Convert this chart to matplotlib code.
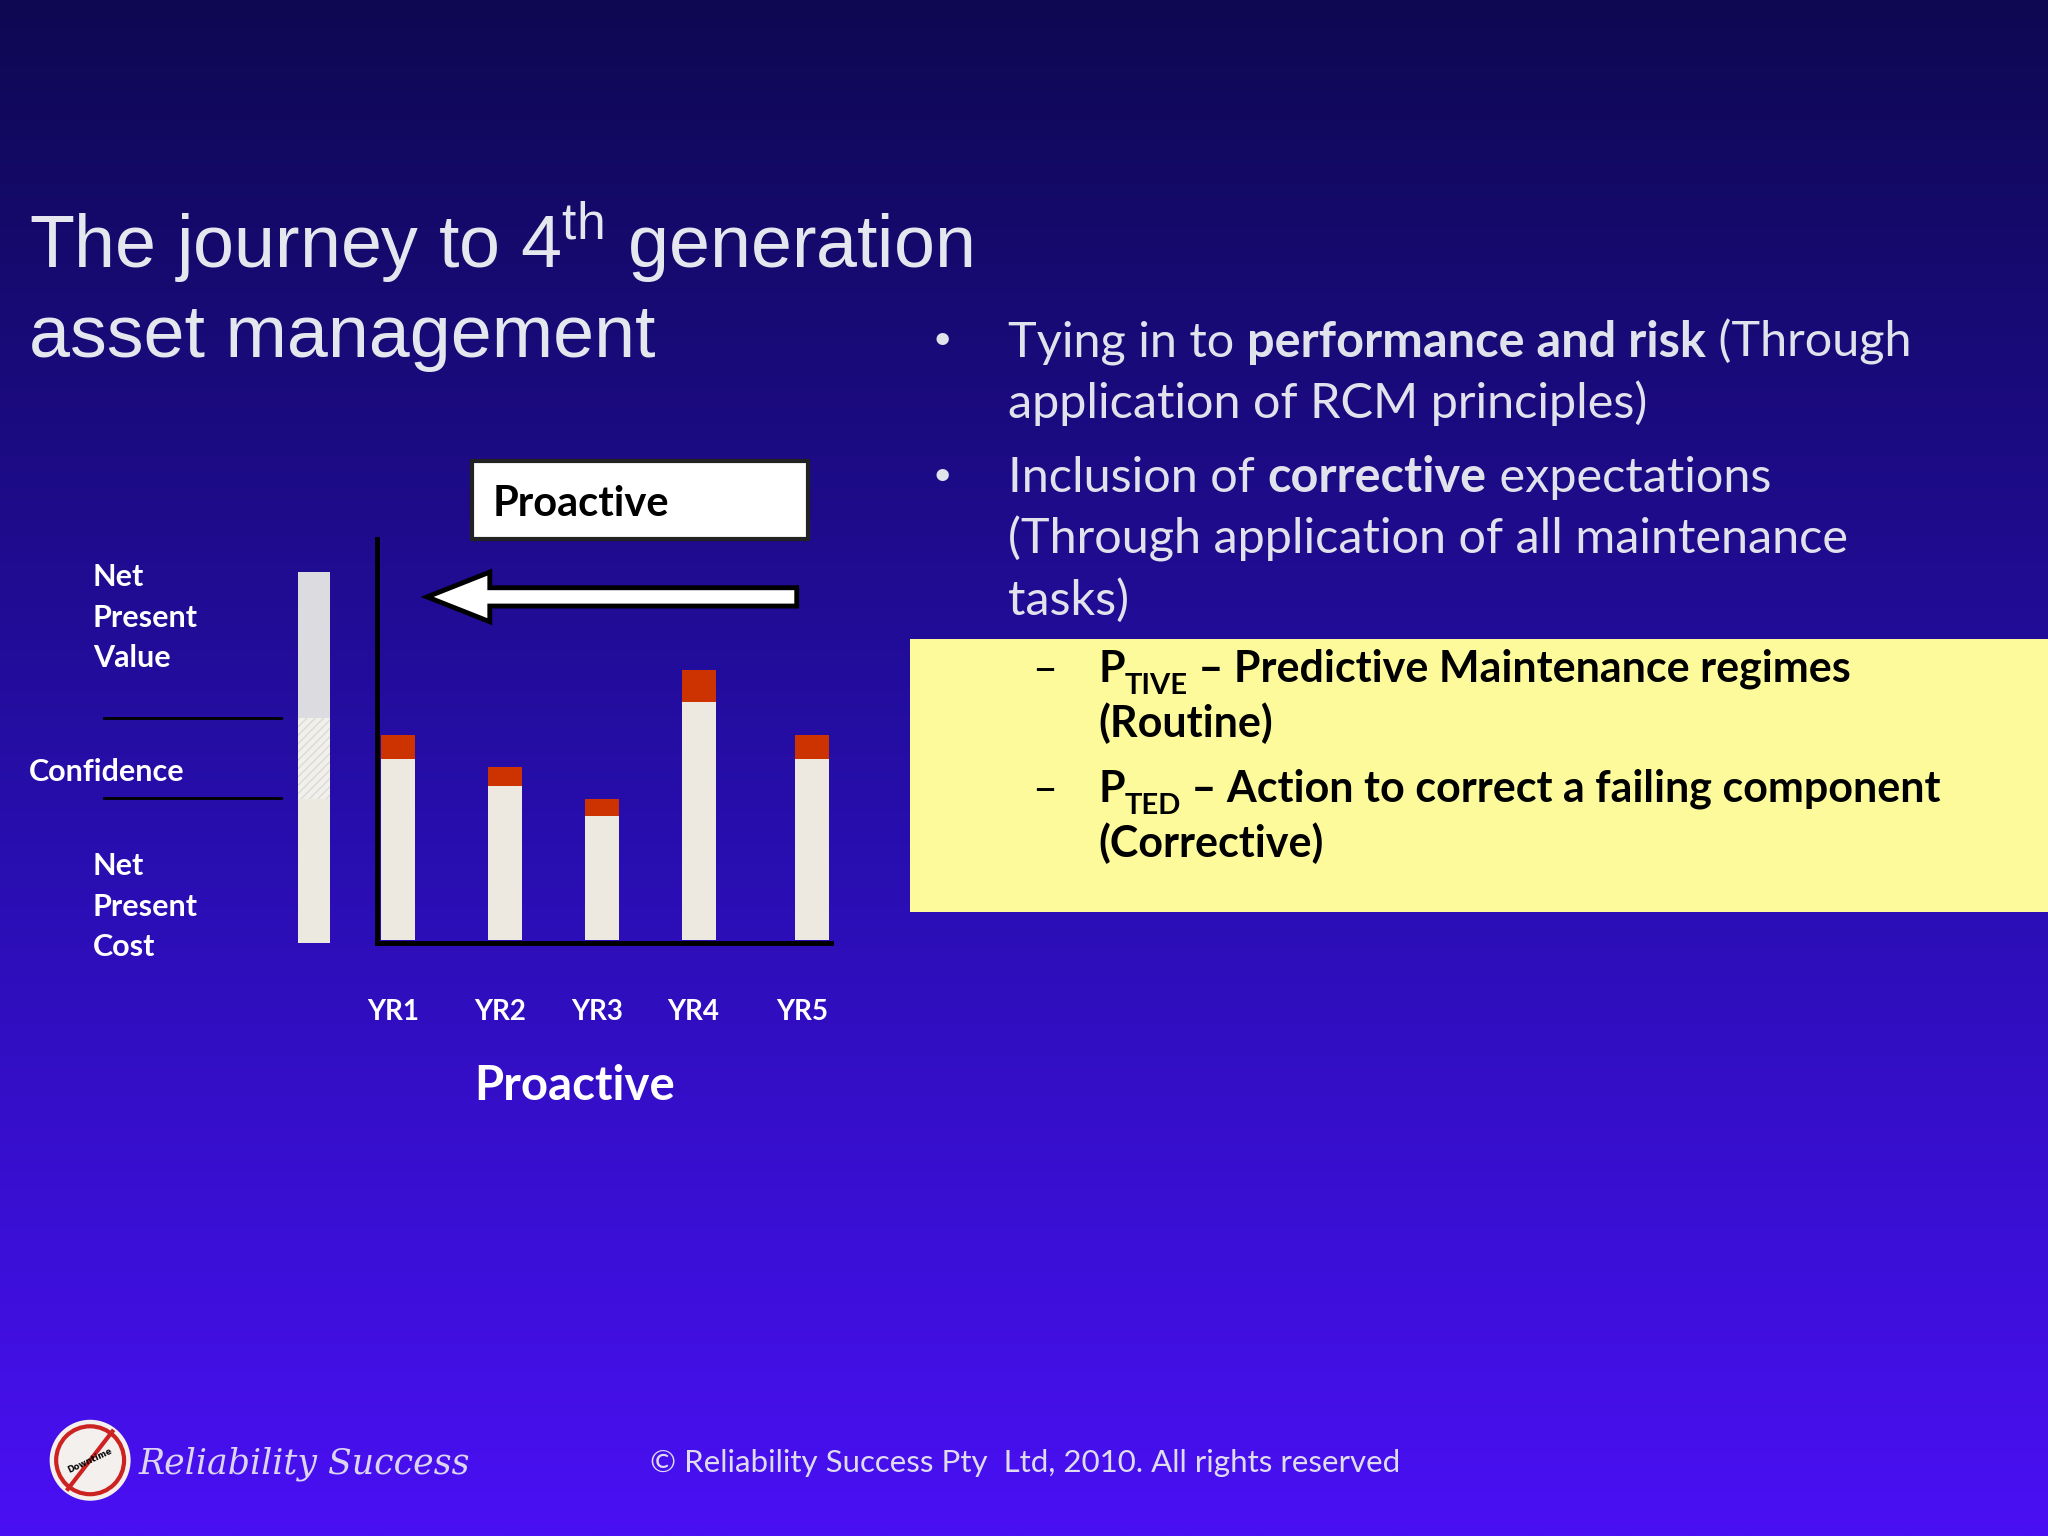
import numpy as np
import matplotlib
matplotlib.use("Agg")
import matplotlib.pyplot as plt
from matplotlib.patches import Rectangle, FancyArrow, Circle

# ---- data ----
years = ["YR1", "YR2", "YR3", "YR4", "YR5"]
routine = [140, 119, 96, 184, 140]      # cream (predictive) part
corrective = [18, 15, 13, 24, 18]       # red (corrective) part
npc_height, conf_height, npv_height = 110, 62, 112

plt.rcParams['mathtext.fontset'] = 'custom'
plt.rcParams['mathtext.rm'] = 'Liberation Sans'

fig = plt.figure(figsize=(20.48, 15.36), dpi=100)
bg = fig.add_axes([0, 0, 1, 1])
bg.set_xlim(0, 1568); bg.set_ylim(1176, 0); bg.axis('off')
top = np.array([14, 8, 82]) / 255
mid = np.array([40, 14, 175]) / 255
bot = np.array([74, 16, 244]) / 255
t = np.linspace(0, 1, 512)[:, None]
grad = np.where(t < 0.55, top + (mid - top) * (t / 0.55), mid + (bot - mid) * ((t - 0.55) / 0.45))
bg.imshow(grad[:, None, :].repeat(2, axis=1), extent=[0, 1568, 1176, 0], aspect='auto', zorder=0)

fig.canvas.draw()
R = fig.canvas.get_renderer()

def rich(x, y, parts, size, color, family='Lato'):
    for p in parts:
        s, w = p[0], p[1]
        sz = p[2] if len(p) > 2 else size
        dy = p[3] if len(p) > 3 else 0
        tx = bg.text(x, y + dy, s, fontsize=sz, fontweight=w, color=color,
                     family=family, va='baseline', ha='left', zorder=5)
        bb = tx.get_window_extent(R)
        x += bb.width * 1568 / 2048

# title
bg.text(22, 205, r'The journey to 4$^{\mathrm{th}}$ generation', fontsize=53, color='#e6e6ee',
        family='Liberation Sans', va='baseline', zorder=5)
bg.text(22, 273, 'asset management', fontsize=53, color='#e6e6ee',
        family='Liberation Sans', va='baseline', zorder=5)

# bullets
lc = '#e2e2ec'
bfs = 35
for yb in (273, 377):
    bg.text(714, yb - 6, '•', fontsize=24, color=lc, family='Lato', va='baseline', zorder=5)
rich(772, 273, [('Tying in to ', 'normal'), ('performance and risk', 'bold'), (' (Through', 'normal')], bfs, lc)
rich(772, 320, [('application of RCM principles)', 'normal')], bfs, lc)
rich(772, 377, [('Inclusion of ', 'normal'), ('corrective', 'bold'), (' expectations', 'normal')], bfs, lc)
rich(772, 424, [('(Through application of all maintenance', 'normal')], bfs, lc)
rich(772, 471, [('tasks)', 'normal')], bfs, lc)

# yellow box
bg.add_patch(Rectangle((697, 489), 871, 209, facecolor='#fdfa9c', edgecolor='none', zorder=3))
sfs = 31
bg.text(790, 522, '–', fontsize=sfs, color='black', family='Lato', va='baseline', zorder=5)
bg.text(790, 614, '–', fontsize=sfs, color='black', family='Lato', va='baseline', zorder=5)
rich(841, 522, [('P', 'bold'), ('TIVE', 'bold', 21, 9), (' – Predictive Maintenance regimes', 'bold')], sfs, 'black')
rich(841, 564, [('(Routine)', 'bold')], sfs, 'black')
rich(841, 614, [('P', 'bold'), ('TED', 'bold', 21, 9), (' – Action to correct a failing component', 'bold')], sfs, 'black')
rich(841, 656, [('(Corrective)', 'bold')], sfs, 'black')

# proactive box + arrow
bg.add_patch(Rectangle((361, 353), 258, 60, facecolor='white', edgecolor='#222222', lw=3, zorder=4))
bg.text(377, 395, 'Proactive', fontsize=30, fontweight='bold', color='black', family='Lato',
        va='baseline', zorder=5)
bg.add_patch(FancyArrow(610, 457, -283, 0, width=14, head_width=38, head_length=48,
                        length_includes_head=True, facecolor='white', edgecolor='black', lw=3.5, zorder=4))

# confidence bar
base = 722
bg.add_patch(Rectangle((228, base - npc_height), 25, npc_height, facecolor='#ece9e0', edgecolor='none', zorder=4))
bg.add_patch(Rectangle((228, base - npc_height - conf_height), 25, conf_height, facecolor='#f2f0ec',
                       edgecolor='#dcdad4', hatch='////', lw=0, zorder=4))
bg.add_patch(Rectangle((228, base - npc_height - conf_height - npv_height), 25, npv_height,
                       facecolor='#dcdce0', edgecolor='none', zorder=4))
bg.plot([80, 215], [550, 550], color='black', lw=2, zorder=4)
bg.plot([80, 215], [611, 611], color='black', lw=2, zorder=4)
lf = 22
for yy, s in zip([449, 480, 511], ['Net', 'Present', 'Value']):
    bg.text(71, yy, s, fontsize=lf, fontweight='bold', color='white', family='Lato', va='baseline', zorder=5)
bg.text(22, 598, 'Confidence', fontsize=lf, fontweight='bold', color='white', family='Lato', va='baseline', zorder=5)
for yy, s in zip([670, 701, 732], ['Net', 'Present', 'Cost']):
    bg.text(71, yy, s, fontsize=lf, fontweight='bold', color='white', family='Lato', va='baseline', zorder=5)

# bar chart
xpos = [305, 387, 461, 535, 622]
ax = fig.add_axes([289 / 1568, 1 - 722 / 1176, (636 - 289) / 1568, (722 - 413) / 1176])
ax.patch.set_alpha(0)
ax.bar(xpos, routine, width=26, color='#ede9e0', zorder=2)
ax.bar(xpos, corrective, bottom=routine, width=26, color='#cc3300', zorder=2)
ax.set_xlim(289, 636); ax.set_ylim(-2, 309)
for s in ['top', 'right']:
    ax.spines[s].set_visible(False)
for s in ['left', 'bottom']:
    ax.spines[s].set_linewidth(3.5); ax.spines[s].set_color('black')
ax.set_yticks([])
ax.set_xticks([x - 4 for x in xpos[:4]] + [xpos[4] - 8])
ax.set_xticklabels(years, fontsize=20, fontweight='bold', color='white', family='Lato')
ax.tick_params(axis='x', length=0, pad=40)
bg.text(440, 842, 'Proactive', fontsize=34, fontweight='bold', color='white', family='Lato',
        ha='center', va='baseline', zorder=5)

# footer
bg.text(498, 1127, '© Reliability Success Pty  Ltd, 2010. All rights reserved', fontsize=22.5,
        color='#e0dcf0', family='Lato', va='baseline', zorder=5)
bg.add_patch(Circle((69, 1118), 31, facecolor='#f4f0ee', edgecolor='none', zorder=4))
bg.add_patch(Circle((69, 1118), 26, facecolor='none', edgecolor='#cc2222', lw=3, zorder=5))
bg.plot([52, 86], [1140, 1096], color='#cc2222', lw=3, zorder=6)
bg.text(69, 1118, 'Downtime', fontsize=6, fontweight='bold', color='black', rotation=25,
        ha='center', va='center', zorder=7)
bg.text(106, 1128, 'Reliability Success', fontsize=25, style='italic', color='#dcd4f0',
        family='DejaVu Serif', va='baseline', zorder=5)

fig.savefig('out.png', dpi=100)
